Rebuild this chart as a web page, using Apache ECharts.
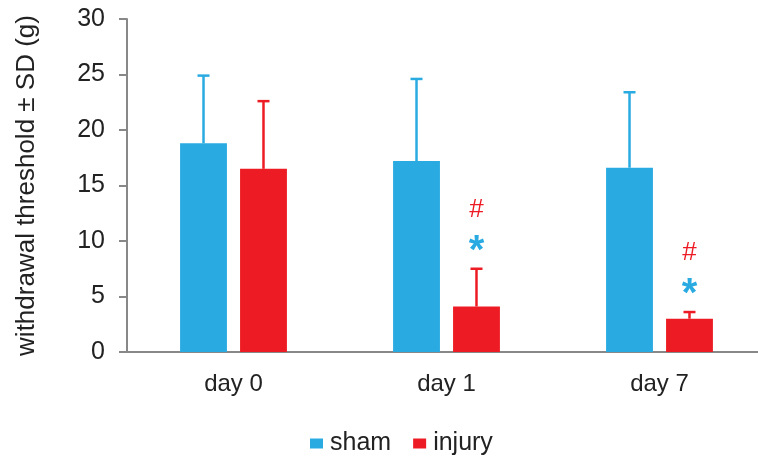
<!DOCTYPE html>
<html><head><meta charset="utf-8">
<script src="https://cdn.jsdelivr.net/npm/echarts@6/dist/echarts.min.js"></script>
<style>html,body{margin:0;padding:0;background:#fff}#c{width:758px;height:461px}</style>
</head><body><div id="c"></div>
<script>
var categories = ['day 0', 'day 1', 'day 7'];
var shamMean = [18.8, 17.2, 16.6];
var shamSD = [6.1, 7.4, 6.8];
var injuryMean = [16.5, 4.1, 3.0];
var injurySD = [6.1, 3.4, 0.6];
var injuryMarks = [false, true, true];
var yTicks = [0, 5, 10, 15, 20, 25, 30];

var BLUE = '#29abe2', RED = '#ed1c24';
var FONT = 'Liberation Sans, Arial, sans-serif';
var chart = echarts.init(document.getElementById('c'));

function errSeries(means, sds, color, idx) {
  return {
    type: 'custom',
    z: 1,
    data: means.map(function (m, i) { return [i, m, m + sds[i]]; }),
    renderItem: function (params, api) {
      var i = api.value(0);
      var base = api.coord([i, api.value(1)]);
      var top = api.coord([i, api.value(2)]);
      var bw = api.size([1, 0])[0];
      var barW = bw * 0.22;
      var gap = barW * 0.28;
      var x = base[0] + (idx === 0 ? -(gap / 2 + barW / 2) : (gap / 2 + barW / 2));
      var cap = 6;
      var children = [
        { type: 'line', shape: { x1: x, y1: base[1], x2: x, y2: top[1] }, style: { stroke: color, lineWidth: 2.5 } },
        { type: 'line', shape: { x1: x - cap, y1: top[1], x2: x + cap, y2: top[1] }, style: { stroke: color, lineWidth: 2.5 } }
      ];
      if (idx === 1 && injuryMarks[i]) {
        children.push({ type: 'text', style: { text: '*', x: x, y: top[1] - 17, fill: BLUE, font: 'bold 40px ' + FONT, align: 'center', verticalAlign: 'middle' } });
        children.push({ type: 'text', style: { text: '#', x: x, y: top[1] - 59, fill: RED, font: '26px ' + FONT, align: 'center', verticalAlign: 'middle' } });
      }
      return { type: 'group', children: children };
    }
  };
}

chart.setOption({
  animation: false,
  grid: { left: 127, width: 639, top: 19, bottom: 109, outerBoundsMode: 'none', containLabel: false },
  legend: {
    top: 426, left: 305,
    itemWidth: 13, itemHeight: 10, itemGap: 22,
    icon: 'rect',
    textStyle: { fontSize: 25, fontFamily: FONT, color: '#222', padding: [0, 0, 0, 2] },
    data: ['sham', 'injury']
  },
  xAxis: {
    type: 'category', data: categories,
    axisLine: { lineStyle: { color: '#888', width: 2 } },
    axisTick: { show: false },
    axisLabel: { fontSize: 24, fontFamily: FONT, color: '#222', margin: 20 }
  },
  yAxis: {
    type: 'value', min: 0, max: 30, interval: 5,
    name: 'withdrawal threshold ± SD (g)',
    nameLocation: 'middle', nameGap: 87, nameRotate: 90,
    nameTextStyle: { fontSize: 26, fontFamily: FONT, color: '#222' },
    axisLine: { show: true, lineStyle: { color: '#888', width: 2 } },
    axisTick: { show: true, length: 8, lineStyle: { color: '#888', width: 2 } },
    splitLine: { show: false },
    axisLabel: { fontSize: 25, fontFamily: FONT, color: '#222', margin: 22,
      formatter: function (v) { return yTicks.indexOf(v) >= 0 ? String(v) : ''; } }
  },
  series: [
    errSeries(shamMean, shamSD, BLUE, 0),
    errSeries(injuryMean, injurySD, RED, 1),
    { name: 'sham', type: 'bar', data: shamMean, z: 2, barWidth: '22%', barGap: '28%', itemStyle: { color: BLUE } },
    { name: 'injury', type: 'bar', data: injuryMean, z: 2, barWidth: '22%', barGap: '28%', itemStyle: { color: RED } }
  ]
});
</script></body></html>
